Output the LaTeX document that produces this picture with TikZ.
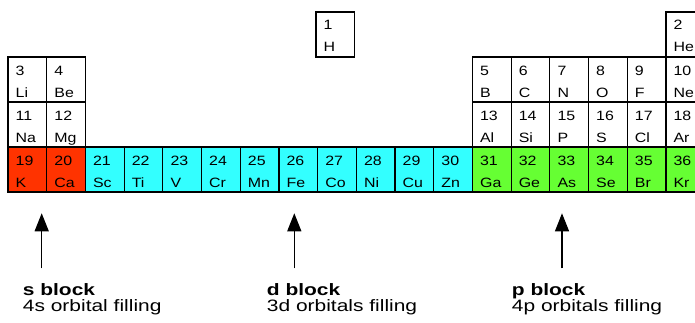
\documentclass[tikz,border=0pt]{standalone}
\usepackage{fontspec}
\setmainfont{Liberation Sans}[FakeStretch=1.18]
\newfontfamily\labfont{Liberation Sans}[FakeStretch=1.27]
\usetikzlibrary{arrows.meta,calc}
\definecolor{sred}{HTML}{FF3300}
\definecolor{dcyan}{HTML}{33FFFF}
\definecolor{pgreen}{HTML}{66FF33}
\tikzset{
  cell/.style={draw=black, line width=1.2pt, rectangle, anchor=north west,
    minimum width=38.7pt, minimum height=45pt, inner sep=0pt, outer sep=0pt},
  eltxt/.style={anchor=base west, inner sep=0pt, font=\fontsize{13.5}{15}\selectfont},
  blk/.style={anchor=base west, inner sep=0pt, font=\labfont\bfseries\fontsize{16.5}{18}\selectfont},
  blksub/.style={anchor=base west, inner sep=0pt, font=\labfont\fontsize{16.5}{18}\selectfont},
  uparrow/.style={line width=1.3pt, -{Triangle[width=14pt,length=18pt]}}
}
% name, x, row, number, symbol, fill
\newcommand\elem[6]{%
  \node[cell, fill=#6] (#1) at (#2,{322-12-(#3-1)*45}) {};
  \node[eltxt] (#1num) at ($(#1.north west)+(7.5,-18)$) {#4};
  \node[eltxt] (#1sym) at ($(#1.north west)+(7.5,-40)$) {#5};
}
\newcommand\colx[1]{{8+(#1-1)*38.7}}
\begin{document}
\begin{tikzpicture}[x=1pt,y=1pt]
\clip (0,0) rectangle (695,322);
\fill[white] (0,0) rectangle (695,322);
% row 1
\elem{H}{316}{1}{1}{H}{white}
\elem{He}{\colx{18}}{1}{2}{He}{white}
% row 2
\elem{Li}{\colx{1}}{2}{3}{Li}{white}
\elem{Be}{\colx{2}}{2}{4}{Be}{white}
\elem{B}{\colx{13}}{2}{5}{B}{white}
\elem{C}{\colx{14}}{2}{6}{C}{white}
\elem{N}{\colx{15}}{2}{7}{N}{white}
\elem{O}{\colx{16}}{2}{8}{O}{white}
\elem{F}{\colx{17}}{2}{9}{F}{white}
\elem{Ne}{\colx{18}}{2}{10}{Ne}{white}
% row 3
\elem{Na}{\colx{1}}{3}{11}{Na}{white}
\elem{Mg}{\colx{2}}{3}{12}{Mg}{white}
\elem{Al}{\colx{13}}{3}{13}{Al}{white}
\elem{Si}{\colx{14}}{3}{14}{Si}{white}
\elem{P}{\colx{15}}{3}{15}{P}{white}
\elem{S}{\colx{16}}{3}{16}{S}{white}
\elem{Cl}{\colx{17}}{3}{17}{Cl}{white}
\elem{Ar}{\colx{18}}{3}{18}{Ar}{white}
% row 4
\elem{K}{\colx{1}}{4}{19}{K}{sred}
\elem{Ca}{\colx{2}}{4}{20}{Ca}{sred}
\elem{Sc}{\colx{3}}{4}{21}{Sc}{dcyan}
\elem{Ti}{\colx{4}}{4}{22}{Ti}{dcyan}
\elem{V}{\colx{5}}{4}{23}{V}{dcyan}
\elem{Cr}{\colx{6}}{4}{24}{Cr}{dcyan}
\elem{Mn}{\colx{7}}{4}{25}{Mn}{dcyan}
\elem{Fe}{\colx{8}}{4}{26}{Fe}{dcyan}
\elem{Co}{\colx{9}}{4}{27}{Co}{dcyan}
\elem{Ni}{\colx{10}}{4}{28}{Ni}{dcyan}
\elem{Cu}{\colx{11}}{4}{29}{Cu}{dcyan}
\elem{Zn}{\colx{12}}{4}{30}{Zn}{dcyan}
\elem{Ga}{\colx{13}}{4}{31}{Ga}{pgreen}
\elem{Ge}{\colx{14}}{4}{32}{Ge}{pgreen}
\elem{As}{\colx{15}}{4}{33}{As}{pgreen}
\elem{Se}{\colx{16}}{4}{34}{Se}{pgreen}
\elem{Br}{\colx{17}}{4}{35}{Br}{pgreen}
\elem{Kr}{\colx{18}}{4}{36}{Kr}{pgreen}
% block labels
\node[blk] (sblock) at (22.7,27) {s block};
\node[blksub] (ssub) at (22.7,10.3) {4s orbital filling};
\node[blk] (dblock) at (266.7,27) {d block};
\node[blksub] (dsub) at (266.7,10.3) {3d orbitals filling};
\node[blk] (pblock) at (511.7,27) {p block};
\node[blksub] (psub) at (511.7,10.3) {4p orbitals filling};
% arrows
\coordinate (sfoot) at (41.7,53.7);
\coordinate (stip) at (41.7,108.7);
\coordinate (dfoot) at (294.3,53.7);
\coordinate (dtip) at (294.3,108.7);
\coordinate (pfoot) at (562,53.7);
\coordinate (ptip) at (562,108.7);
\draw[uparrow] (sfoot) -- (stip);
\draw[uparrow] (dfoot) -- (dtip);
\draw[uparrow] (pfoot) -- (ptip);
\end{tikzpicture}
\end{document}
